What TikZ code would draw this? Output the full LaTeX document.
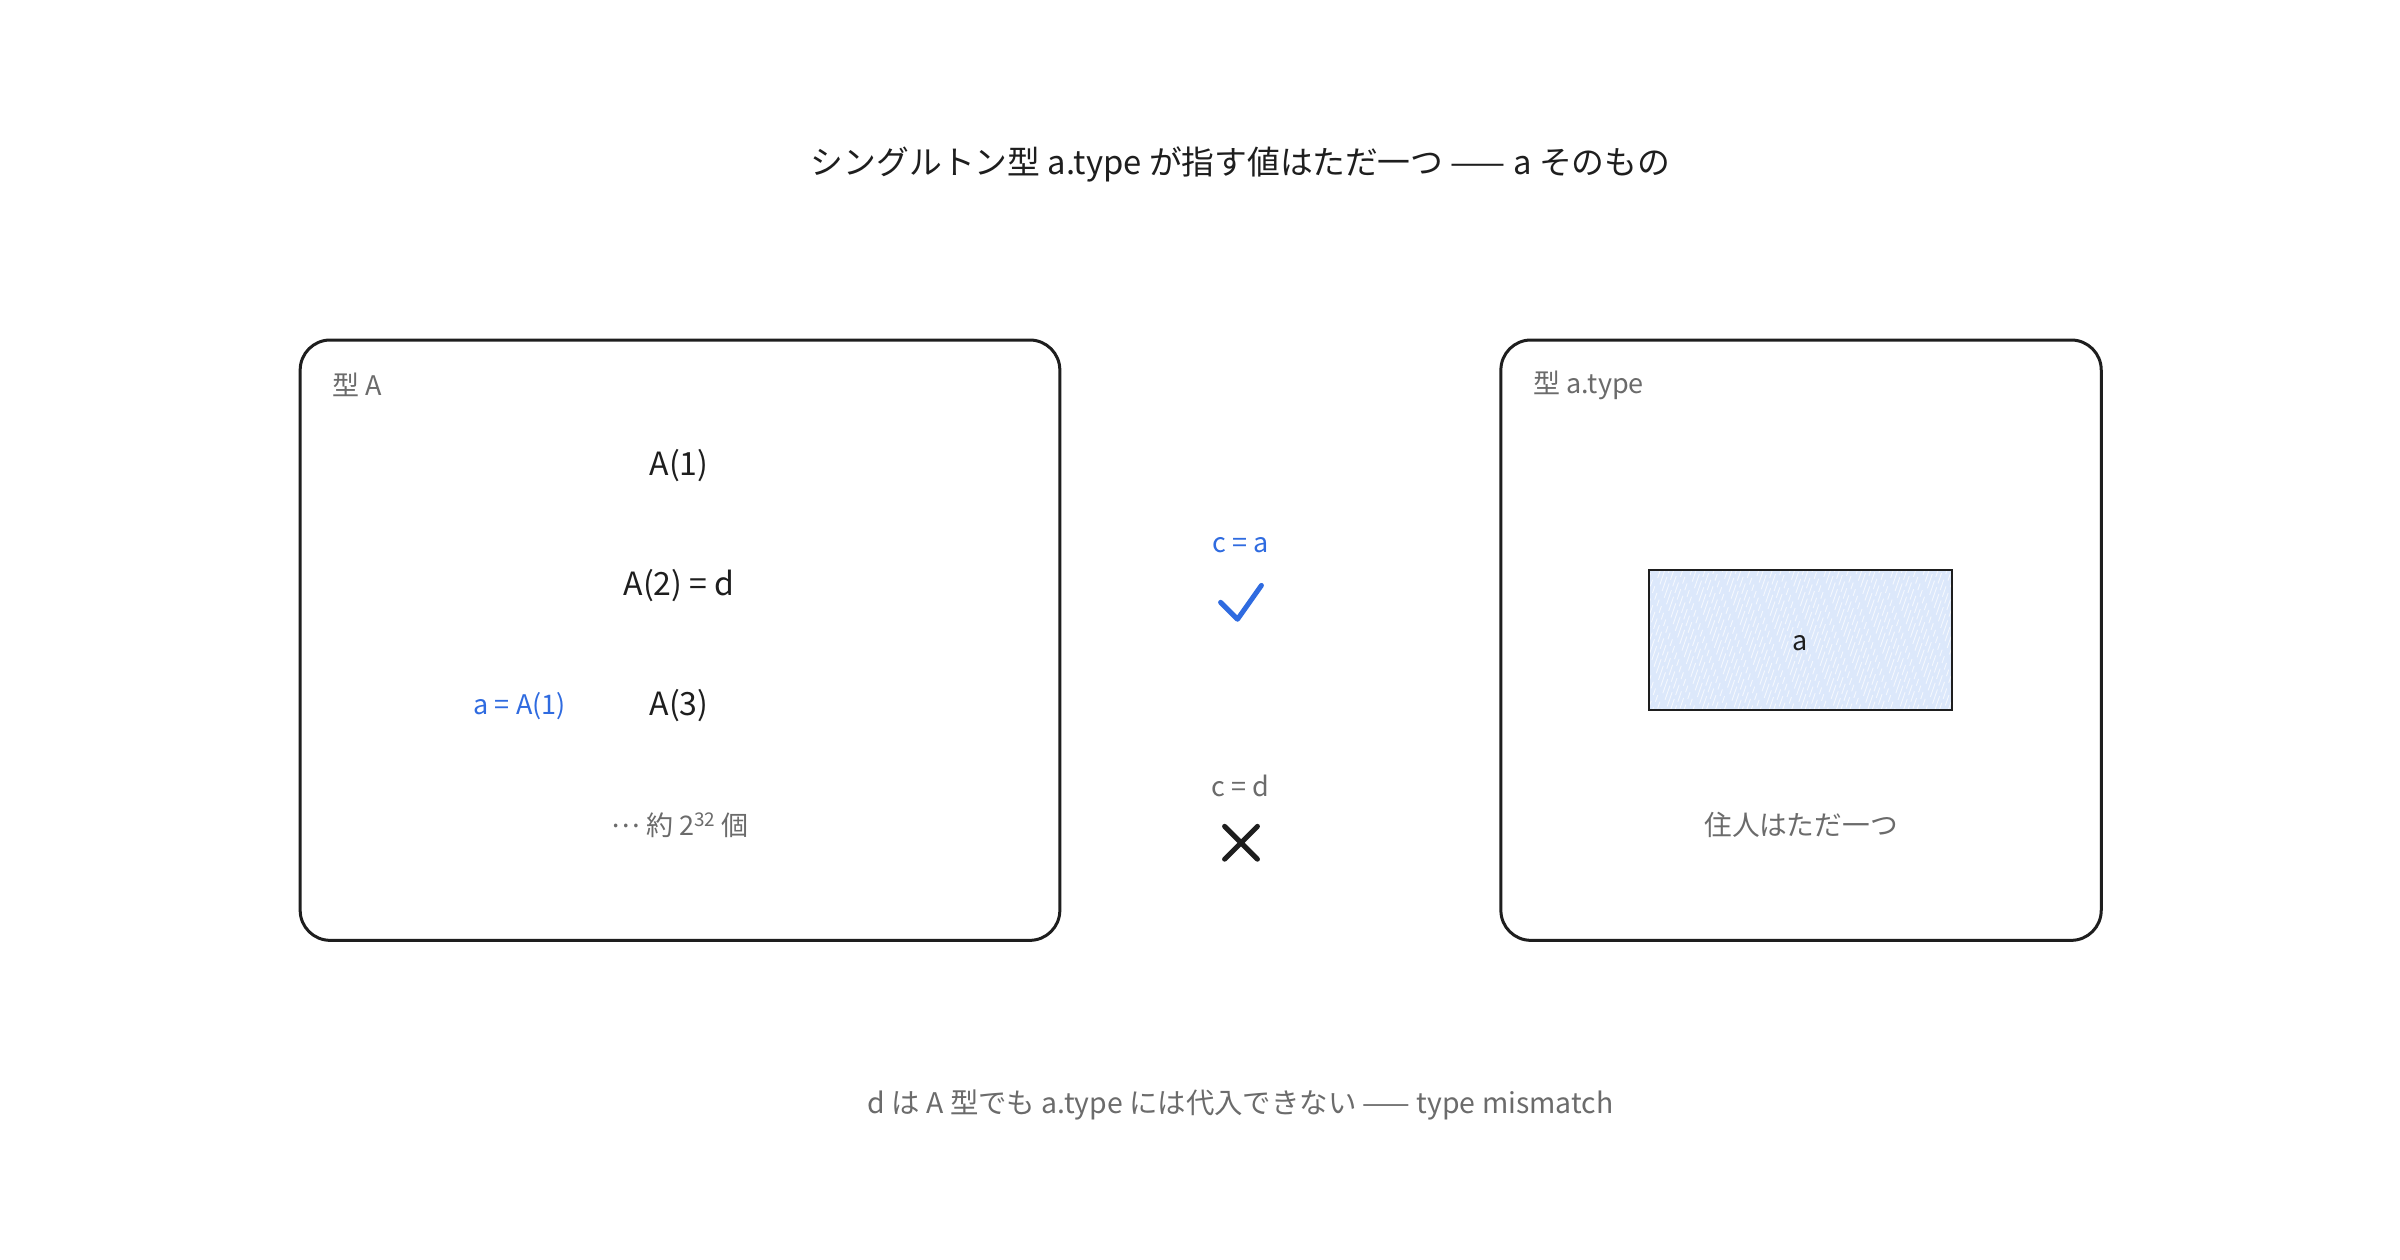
\documentclass[tikz,border=0pt]{standalone}
\usepackage{fontspec}
\setmainfont{Noto Sans CJK JP}
\definecolor{ink}{HTML}{1E1E1E}
\definecolor{muted}{HTML}{6B6B6B}
\definecolor{accent}{HTML}{2F6BE0}
\definecolor{fillblue}{HTML}{DCE8FB}
\begin{document}
\begin{tikzpicture}[x=1pt,y=-1pt,
  frame/.style={draw=ink,line width=3pt,rounded corners=30pt},
  body/.style={text=ink,font=\fontsize{32}{38}\selectfont,inner sep=0pt},
  small/.style={text=muted,font=\fontsize{27}{32}\selectfont,inner sep=0pt},
  bluetxt/.style={text=accent,font=\fontsize{27}{32}\selectfont,inner sep=0pt},
  tickmark/.style={line width=5pt,line cap=round,line join=round}]
\useasboundingbox[fill=white] (0,0) rectangle (2400,1260);
\begin{scope}[scale=0.9956]
% title
\node[body,font=\fontsize{32.8}{39}\selectfont] (title) at (1246,165) {シングルトン型 a.type が指す値はただ一つ —— a そのもの};
% left box
\draw[frame] (301.5,341.5) rectangle (1064.5,944.5);
\node[small,anchor=west] (lblA) at (334,387) {型 A};
\node[body] (a1) at (682,468) {A(1)};
\node[body] (a2) at (682,588) {A(2) = d};
\node[body] (a3) at (682,709) {A(3)};
\node[bluetxt] (aeq) at (522,709) {a = A(1)};
\node[small] (many) at (683,829) {\raisebox{0.3em}{…} 約 2\textsuperscript{32} 個};
% middle
\node[bluetxt] (ca) at (1246,548) {c = a};
\coordinate (ck1) at (1226,605);
\coordinate (ck2) at (1243,622);
\coordinate (ck3) at (1267,588);
\draw[tickmark,draw=accent] (ck1) -- (ck2) -- (ck3);
\node[small] (cd) at (1246,789) {c = d};
\coordinate (x1) at (1230,830);
\coordinate (x2) at (1263,863);
\coordinate (x3) at (1230,863);
\coordinate (x4) at (1263,830);
\draw[tickmark,draw=ink] (x1) -- (x2) (x3) -- (x4);
% right box
\draw[frame] (1507.5,341.5) rectangle (2110.5,944.5);
\node[small,anchor=west] (lblT) at (1540,387) {型 a.type};
\fill[fillblue] (1657,573) rectangle (1960,713);
\begin{scope}
\clip (1657,573) rectangle (1960,713);
\foreach \i in {0,...,90}{
  \pgfmathsetmacro{\xs}{1590+\i*4.5}
  \draw[white,opacity=0.7,line width=0.9pt,dash pattern=on 11pt off 6pt on 7pt off 9pt on 15pt off 4pt,dash phase=\i*7pt] (\xs,720) -- ++(55,-160);
}
\end{scope}
\node[draw=ink,line width=2.5pt,minimum width=303pt,minimum height=140pt,inner sep=0pt] (abox) at (1808.5,643) {};
\node[body,font=\fontsize{27}{32}\selectfont] (alab) at ([yshift=-3pt]abox.center) {a};
\node[small,font=\fontsize{27.7}{33}\selectfont] (only) at (1809,829) {住人はただ一つ};
% footer
\node[small,font=\fontsize{28.4}{34}\selectfont] (foot) at (1246,1110) {d は A 型でも a.type には代入できない —— type mismatch};
\end{scope}
\end{tikzpicture}
\end{document}
